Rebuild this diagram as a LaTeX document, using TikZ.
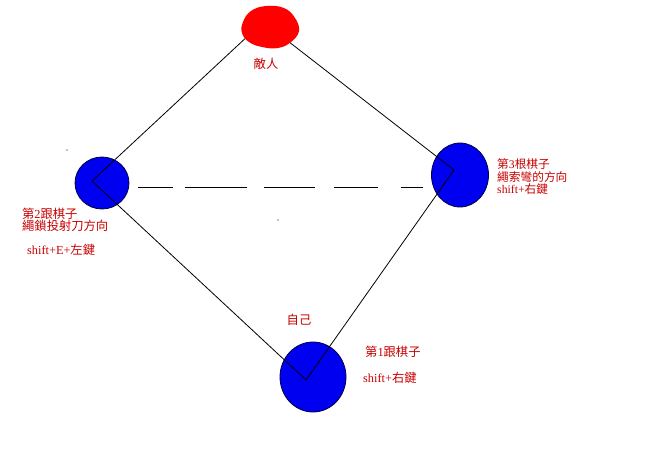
\documentclass[tikz,border=0pt]{standalone}
\usepackage{fontspec}
\setmainfont{Liberation Serif}
\newfontfamily\cjkfont{Noto Sans CJK TC}
\newcommand\zh[1]{{\cjkfont #1}}
\definecolor{lbl}{RGB}{200,0,0}
\definecolor{piece}{RGB}{0,0,240}
\definecolor{rim}{RGB}{0,0,70}
\definecolor{enemy}{RGB}{255,0,0}
\tikzset{
  piecestyle/.style={ellipse, fill=piece, draw=rim, line width=0.8pt, inner sep=0pt},
  rope/.style={draw=black, line width=0.8pt},
  lbltext/.style={text=lbl, inner sep=0pt, font=\fontsize{12.3}{12.3}\selectfont, align=left},
  straydot/.style={fill=black, inner sep=0pt, minimum size=1.2pt, circle}
}
\usetikzlibrary{shapes.geometric}
\begin{document}
\begin{tikzpicture}[x=1pt, y=-1pt]
\useasboundingbox[fill=white] (0,0) rectangle (657,475);
% pieces
\node[piecestyle, minimum width=54pt, minimum height=52pt] (left) at (102,183) {};
\node[piecestyle, minimum width=57pt, minimum height=64pt] (right) at (460,175) {};
\node[piecestyle, minimum width=66pt, minimum height=70pt] (self) at (313,377) {};
% rope vertices
\coordinate (lv) at (92,181);
\coordinate (rv) at (454,170);
\coordinate (sv) at (306,380);
\coordinate (el) at (250,34);
\coordinate (er) at (284,38);
% ropes
\draw[rope] (lv) -- (el);
\draw[rope] (er) -- (rv);
\draw[rope] (lv) -- (sv);
\draw[rope] (rv) -- (sv);
% dashed line
\coordinate (ds) at (138,187);
\coordinate (de) at (423,187);
\draw[rope, dash pattern=on 35pt off 12pt on 62pt off 17pt on 51pt off 19pt on 44pt off 23pt on 30pt off 10pt] (ds) -- (de);
% enemy blob
\node[inner sep=0pt] (enemy) at (270,27) {};
\fill[enemy] plot[smooth cycle, tension=0.7] coordinates {(243,22) (251,11) (266,6) (284,8) (295,18) (299,31) (291,42) (278,48) (262,47) (249,42) (242,33)};
% labels
\node[lbltext, anchor=center] (enemylbl) at (266,64) {\zh{敵人}};
\node[lbltext, anchor=center] (selflbl) at (299,320) {\zh{自己}};
\node[lbltext, anchor=west] (leftlbl) at (22,220) {\zh{第}2\zh{跟棋子}\\\zh{繩鎖投射刀方向}};
\node[lbltext, anchor=west] (leftkey) at (27,250) {shift+E+\zh{左鍵}};
\node[lbltext, anchor=west, font=\fontsize{11.7}{12.5}\selectfont] (rightlbl) at (497,177) {\zh{第}3\zh{根棋子}\\\zh{繩索彎的方向}\\shift+\zh{右鍵}};
\node[lbltext, anchor=west] (selfpiece) at (365,352) {\zh{第}1\zh{跟棋子}};
\node[lbltext, anchor=west] (selfkey) at (363,378) {shift+\zh{右鍵}};
% stray marks
\node[straydot] (s1) at (67,150) {};
\node[straydot] (s2) at (278,220) {};
\end{tikzpicture}
\end{document}
